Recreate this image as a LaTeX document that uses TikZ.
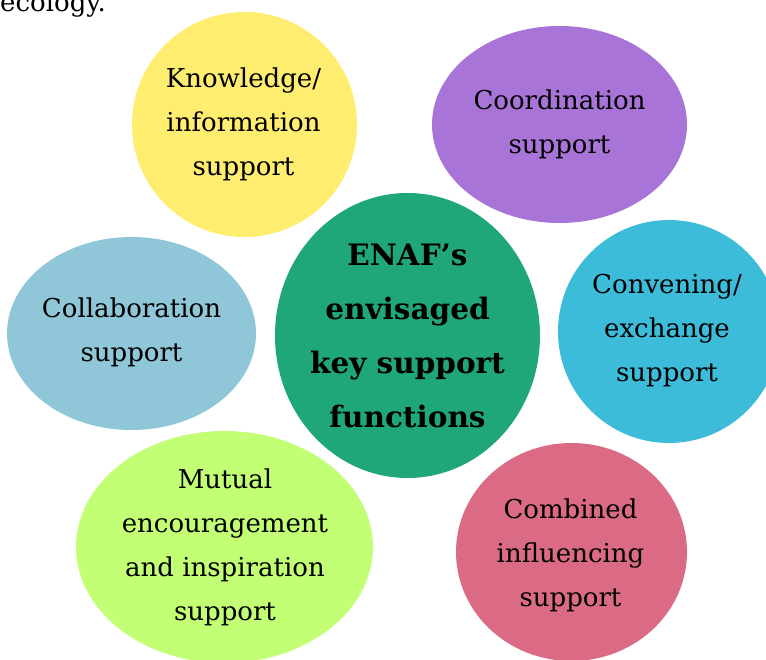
\documentclass[tikz,border=0pt]{standalone}
\usepackage{fontspec}
\setmainfont{DejaVu Serif}
\definecolor{cyellow}{RGB}{255,237,111}
\definecolor{cpurple}{RGB}{169,116,216}
\definecolor{cteal}{RGB}{32,167,119}
\definecolor{cblue}{RGB}{143,198,216}
\definecolor{ccyan}{RGB}{61,188,217}
\definecolor{cpink}{RGB}{219,106,133}
\definecolor{clime}{RGB}{194,255,117}
\tikzset{
  lbl/.style={align=center, inner sep=0pt, font=\fontsize{26}{44}\selectfont, text=black},
  mainlbl/.style={align=center, inner sep=0pt, font=\fontsize{29.5}{54}\selectfont\bfseries, text=black},
}
\begin{document}
\begin{tikzpicture}[x=1pt,y=-1pt]
\useasboundingbox (0,0) rectangle (766,660);
\clip (0,0) rectangle (766,660);
\node[anchor=base west, inner sep=0pt, font=\fontsize{26}{30}\selectfont] (eco) at (0,12) {ecology.};
% ellipses
\fill[cyellow] (244.5,124.5) ellipse [x radius=112.5, y radius=112.5];
\fill[cpurple] (559.5,124.5) ellipse [x radius=127.5, y radius=98.5];
\fill[cteal] (407.5,335.5) ellipse [x radius=132.5, y radius=142.5];
\fill[cblue] (131.5,333.5) ellipse [x radius=124.5, y radius=96.5];
\fill[ccyan] (669,331.5) ellipse [x radius=111, y radius=111.5];
\fill[cpink] (571.5,552) ellipse [x radius=115.5, y radius=109];
\fill[clime] (224.5,547) ellipse [x radius=148.5, y radius=116];
% labels
\node[lbl] (know) at (243.5,124) {Knowledge/\\information\\support};
\node[lbl] (coord) at (559.5,124) {Coordination\\support};
\node[mainlbl] (main) at (407.5,336) {ENAF’s\\envisaged\\key support\\functions};
\node[lbl] (collab) at (131.5,332) {Collaboration\\support};
\node[lbl] (conv) at (667,331) {Convening/\\exchange\\support};
\node[lbl] (comb) at (570.5,555) {Combined\\influencing\\support};
\node[lbl] (mutual) at (225,547) {Mutual\\encouragement\\and inspiration\\support};
\end{tikzpicture}
\end{document}
